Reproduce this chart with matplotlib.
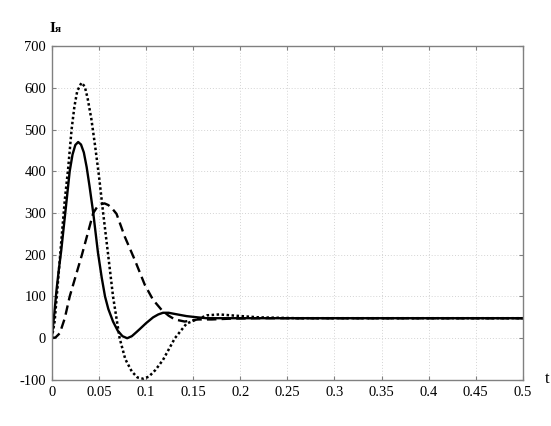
import numpy as np
import matplotlib
matplotlib.use('Agg')
import matplotlib.pyplot as plt

# solid curve
t_solid = [0, 0.0025, 0.005, 0.0075, 0.010, 0.015, 0.019, 0.022, 0.025, 0.028,
           0.031, 0.034, 0.037, 0.040, 0.044, 0.049, 0.053, 0.0565, 0.060,
           0.065, 0.070, 0.075, 0.080, 0.085, 0.090, 0.0934, 0.100, 0.1075,
           0.113, 0.118, 0.124, 0.131, 0.143, 0.155, 0.164, 0.180, 0.5]
i_solid = [0, 55, 115, 165, 210, 315, 400, 440, 463, 470,
           464, 445, 410, 365, 300, 205, 145, 100, 70,
           40, 18, 5, 0, 5, 15, 22, 36, 50,
           57, 61, 61, 58, 53, 50, 48, 48, 48]

# dashed curve
t_dash = [0, 0.004, 0.0085, 0.0138, 0.019, 0.0255, 0.032, 0.038, 0.044,
          0.048, 0.052, 0.056, 0.060, 0.064, 0.0687, 0.0775, 0.088, 0.0987,
          0.1075, 0.1165, 0.124, 0.1306, 0.141, 0.155, 0.170, 0.190, 0.220, 0.5]
i_dash = [0, 2, 12, 48, 100, 150, 200, 250, 300,
          314, 321, 323, 319, 311, 298, 243, 188, 128,
          92, 68, 54, 45, 40, 45, 45, 47, 48, 48]

# dotted curve
t_dot = [0, 0.003, 0.006, 0.010, 0.0138, 0.0173, 0.021, 0.024, 0.027,
         0.0315, 0.035, 0.038, 0.042, 0.046, 0.050, 0.0545, 0.0598, 0.065,
         0.072, 0.078, 0.085, 0.091, 0.097, 0.103, 0.110, 0.118, 0.1306,
         0.143, 0.1536, 0.165, 0.178, 0.195, 0.220, 0.260, 0.5]
i_dot = [0, 40, 120, 230, 331, 405, 500, 555, 592,
         612, 603, 575, 525, 460, 390, 300, 200, 100,
         0, -50, -80, -94, -97, -92, -76, -52, 0,
         35, 45, 55, 57, 54, 50, 48, 48]

x_ticks = [0, 0.05, 0.1, 0.15, 0.2, 0.25, 0.3, 0.35, 0.4, 0.45, 0.5]
x_labels = ['0', '0.05', '0.1', '0.15', '0.2', '0.25', '0.3', '0.35', '0.4', '0.45', '0.5']
y_ticks = [-100, 0, 100, 200, 300, 400, 500, 600, 700]

plt.rcParams['font.family'] = ['Liberation Serif', 'DejaVu Serif']
plt.rcParams['axes.unicode_minus'] = False
fig = plt.figure(figsize=(5.51, 4.26), dpi=100)
ax = fig.add_axes([0.094, 0.108, 0.855, 0.784])

ax.plot(t_dot, i_dot, color='black', lw=1.8, linestyle=(0, (1, 1)))
ax.plot(t_dash, i_dash, color='black', lw=1.7, linestyle=(0, (4, 2.2)))
ax.plot(t_solid, i_solid, color='black', lw=1.7)

ax.set_xlim(0, 0.5)
ax.set_ylim(-100, 700)
ax.set_xticks(x_ticks)
ax.set_xticklabels(x_labels)
ax.set_yticks(y_ticks)
ax.grid(True, color='#d4d4d4', linestyle=(0, (1, 2)), lw=0.7)
ax.tick_params(direction='in', top=True, right=True, length=3,
               color='#808080', labelsize=10.5, pad=4)
for sp in ax.spines.values():
    sp.set_color('#808080')
    sp.set_linewidth(1.0)

fig.text(55 / 551, 1 - 29 / 426, 'I', fontsize=11, fontweight='bold',
         ha='right', va='center')
fig.text(55 / 551, 1 - 30 / 426, 'я', fontsize=8, fontweight='bold',
         ha='left', va='center')
fig.text(547 / 551, 1 - 379 / 426, 't', fontsize=12, ha='center', va='center')

fig.savefig('out.png', dpi=100)
